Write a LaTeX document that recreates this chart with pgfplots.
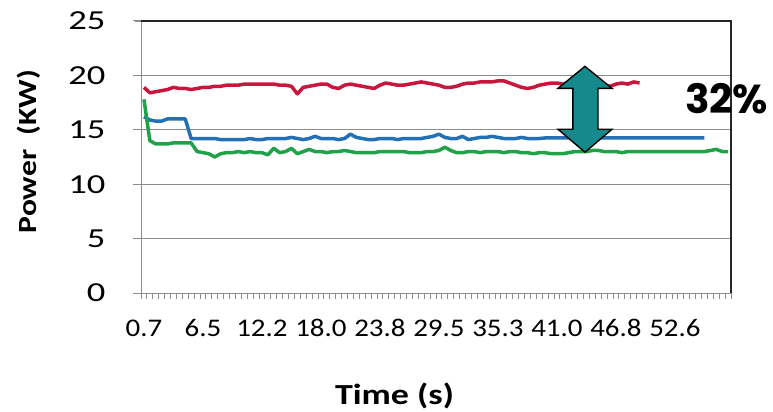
\documentclass[border=0pt]{standalone}
\usepackage{pgfplots}
\pgfplotsset{compat=1.18}
\usepackage{graphicx}
\usepackage{fontspec}
\setmainfont{Carlito}
\newfontfamily\xfont{Carlito}[FakeStretch=1.14]
\newfontfamily\yfont{Carlito}[FakeStretch=1.33]
\newfontfamily\comicfont{Poppins}
\definecolor{cred}{RGB}{200,22,60}
\definecolor{cblue}{RGB}{36,112,180}
\definecolor{cgreen}{RGB}{32,162,72}
\definecolor{cteal}{RGB}{20,138,140}
\definecolor{cgrid}{RGB}{140,140,140}

\pgfplotstableread{
x y
0 18.9
1 18.4
2 18.5
3 18.6
4 18.7
5 18.9
6 18.8
7 18.8
8 18.7
9 18.8
10 18.9
11 18.9
12 19.0
13 19.0
14 19.1
15 19.1
16 19.1
17 19.2
18 19.2
19 19.2
20 19.2
21 19.2
22 19.2
23 19.1
24 19.1
25 19.0
26 18.3
27 18.9
28 19.0
29 19.1
30 19.2
31 19.2
32 18.9
33 18.8
34 19.1
35 19.2
36 19.1
37 19.0
38 18.9
39 18.8
40 19.1
41 19.3
42 19.2
43 19.1
44 19.1
45 19.2
46 19.3
47 19.4
48 19.3
49 19.2
50 19.1
51 18.9
52 18.9
53 19.0
54 19.2
55 19.3
56 19.3
57 19.4
58 19.4
59 19.4
60 19.5
61 19.5
62 19.3
63 19.1
64 18.9
65 18.8
66 18.9
67 19.1
68 19.2
69 19.3
70 19.3
71 19.2
72 19.3
73 19.2
74 19.3
75 19.2
76 19.3
77 19.2
78 19.1
79 19.0
80 19.2
81 19.3
82 19.2
83 19.4
84 19.3
}\redtable

\pgfplotstableread{
x y
0 16.2
1 15.9
2 15.8
3 15.8
4 16.0
5 16.0
6 16.0
7 16.0
8 14.2
9 14.2
10 14.2
11 14.2
12 14.2
13 14.1
14 14.1
15 14.1
16 14.1
17 14.1
18 14.2
19 14.1
20 14.1
21 14.2
22 14.2
23 14.2
24 14.2
25 14.3
26 14.2
27 14.1
28 14.2
29 14.4
30 14.2
31 14.2
32 14.2
33 14.1
34 14.2
35 14.6
36 14.3
37 14.2
38 14.1
39 14.1
40 14.2
41 14.2
42 14.2
43 14.1
44 14.2
45 14.2
46 14.2
47 14.2
48 14.3
49 14.4
50 14.6
51 14.3
52 14.2
53 14.2
54 14.4
55 14.1
56 14.2
57 14.3
58 14.3
59 14.4
60 14.3
61 14.2
62 14.2
63 14.2
64 14.3
65 14.2
66 14.2
67 14.2
68 14.25
69 14.25
70 14.25
71 14.25
72 14.25
73 14.25
74 14.25
75 14.25
76 14.25
77 14.25
78 14.25
79 14.25
80 14.25
81 14.25
82 14.25
83 14.25
84 14.25
85 14.25
86 14.25
87 14.25
88 14.25
89 14.25
90 14.25
91 14.25
92 14.25
93 14.25
94 14.25
95 14.25
}\bluetable

\pgfplotstableread{
x y
0 17.8
1 14.0
2 13.7
3 13.7
4 13.7
5 13.8
6 13.8
7 13.8
8 13.8
9 13.0
10 12.9
11 12.8
12 12.5
13 12.8
14 12.9
15 12.9
16 13.0
17 12.9
18 13.0
19 12.9
20 12.9
21 12.7
22 13.3
23 12.9
24 13.0
25 13.3
26 12.8
27 13.0
28 13.2
29 13.0
30 13.0
31 12.9
32 13.0
33 13.0
34 13.1
35 13.0
36 12.9
37 12.9
38 12.9
39 12.9
40 13.0
41 13.0
42 13.0
43 13.0
44 13.0
45 12.9
46 12.9
47 12.9
48 13.0
49 13.0
50 13.1
51 13.4
52 13.1
53 12.9
54 12.9
55 13.0
56 13.0
57 12.9
58 13.0
59 13.0
60 13.0
61 12.9
62 13.0
63 13.0
64 12.9
65 12.9
66 12.8
67 12.9
68 12.9
69 12.8
70 12.8
71 12.8
72 12.9
73 13.0
74 13.0
75 13.0
76 13.1
77 13.1
78 13.0
79 13.0
80 13.0
81 12.9
82 13.0
83 13.0
84 13.0
85 13.0
86 13.0
87 13.0
88 13.0
89 13.0
90 13.0
91 13.0
92 13.0
93 13.0
94 13.0
95 13.0
96 13.1
97 13.2
98 13.0
99 13.0
}\greentable

\begin{document}
\begin{tikzpicture}
\begin{axis}[
  at={(141bp,119bp)}, anchor=south west,
  scale only axis, width=590bp, height=272bp,
  xmin=-0.5, xmax=99.5, ymin=0, ymax=25,
  clip=false,
  axis x line*=bottom, axis y line*=left,
  axis line style={cgrid, line width=1bp},
  ytick={0,5,10,15,20,25},
  xtick={-0.5,0.5,...,99.5},
  xticklabels={{0.7},{},{},{},{},{},{},{},{},{},
               {6.5},{},{},{},{},{},{},{},{},{},
               {12.2},{},{},{},{},{},{},{},{},{},
               {18.0},{},{},{},{},{},{},{},{},{},
               {23.8},{},{},{},{},{},{},{},{},{},
               {29.5},{},{},{},{},{},{},{},{},{},
               {35.3},{},{},{},{},{},{},{},{},{},
               {41.0},{},{},{},{},{},{},{},{},{},
               {46.8},{},{},{},{},{},{},{},{},{},
               {52.6},{},{},{},{},{},{},{},{},{},{}},
  tick align=outside,
  major tick length=6bp,
  tick style={cgrid, line width=0.9bp},
  ymajorgrids,
  grid style={cgrid, line width=1bp},
  /pgf/number format/assume math mode=true,
  xticklabel style={font=\xfont\fontsize{25.4bp}{28bp}\selectfont, black, anchor=center, yshift=-29bp, xshift=2.95bp},
  yticklabel style={font=\yfont\fontsize{27.5bp}{30bp}\selectfont, black, anchor=east, xshift=-26bp},
]
\addplot[cred, no marks, line width=3.5bp, line join=round] table[x=x,y=y] {\redtable};
\addplot[cblue, no marks, line width=3.5bp, line join=round] table[x=x,y=y] {\bluetable};
\addplot[cgreen, no marks, line width=3.5bp, line join=round] table[x=x,y=y] {\greentable};
\draw[cgrid, line width=1bp] (axis cs:-0.5,0) -- ++(-11bp,0);
\draw[cgrid, line width=1bp] (axis cs:-0.5,5) -- ++(-11bp,0);
\draw[cgrid, line width=1bp] (axis cs:-0.5,10) -- ++(-11bp,0);
\draw[cgrid, line width=1bp] (axis cs:-0.5,15) -- ++(-11bp,0);
\draw[cgrid, line width=1bp] (axis cs:-0.5,20) -- ++(-11bp,0);
\draw[cgrid, line width=1bp] (axis cs:-0.5,25) -- ++(-11bp,0);
\draw[black!85, line width=1.6bp] (rel axis cs:0,1) -- (rel axis cs:1,1) -- (rel axis cs:1,0);
\draw[fill=cteal, draw=black, line width=1.4bp, line join=miter]
  (axis cs:74.75,20.83) -- (axis cs:79.33,18.81) -- (axis cs:76.96,18.81)
  -- (axis cs:76.96,15.05) -- (axis cs:79.33,15.05) -- (axis cs:74.75,12.94)
  -- (axis cs:70.18,15.05) -- (axis cs:72.7,15.05) -- (axis cs:72.7,18.81)
  -- (axis cs:70.18,18.81) -- cycle;
\node[inner sep=0pt, anchor=center] at (axis cs:98.77,17.89)
  {\resizebox*{83bp}{30.6bp}{\comicfont\bfseries 32\%}};
\node[inner sep=0pt, anchor=center] at (rel axis cs:0.4297,-0.3798)
  {\resizebox*{119bp}{26bp}{\bfseries Time (s)}};
\node[inner sep=0pt, anchor=center, rotate=90] at (rel axis cs:-0.1898,0.5195)
  {\resizebox*{163bp}{23.4bp}{\bfseries Power\ \ (KW)}};
\end{axis}
\pgfresetboundingbox
\useasboundingbox (0,0) rectangle (773bp,412bp);
\end{tikzpicture}
\end{document}
